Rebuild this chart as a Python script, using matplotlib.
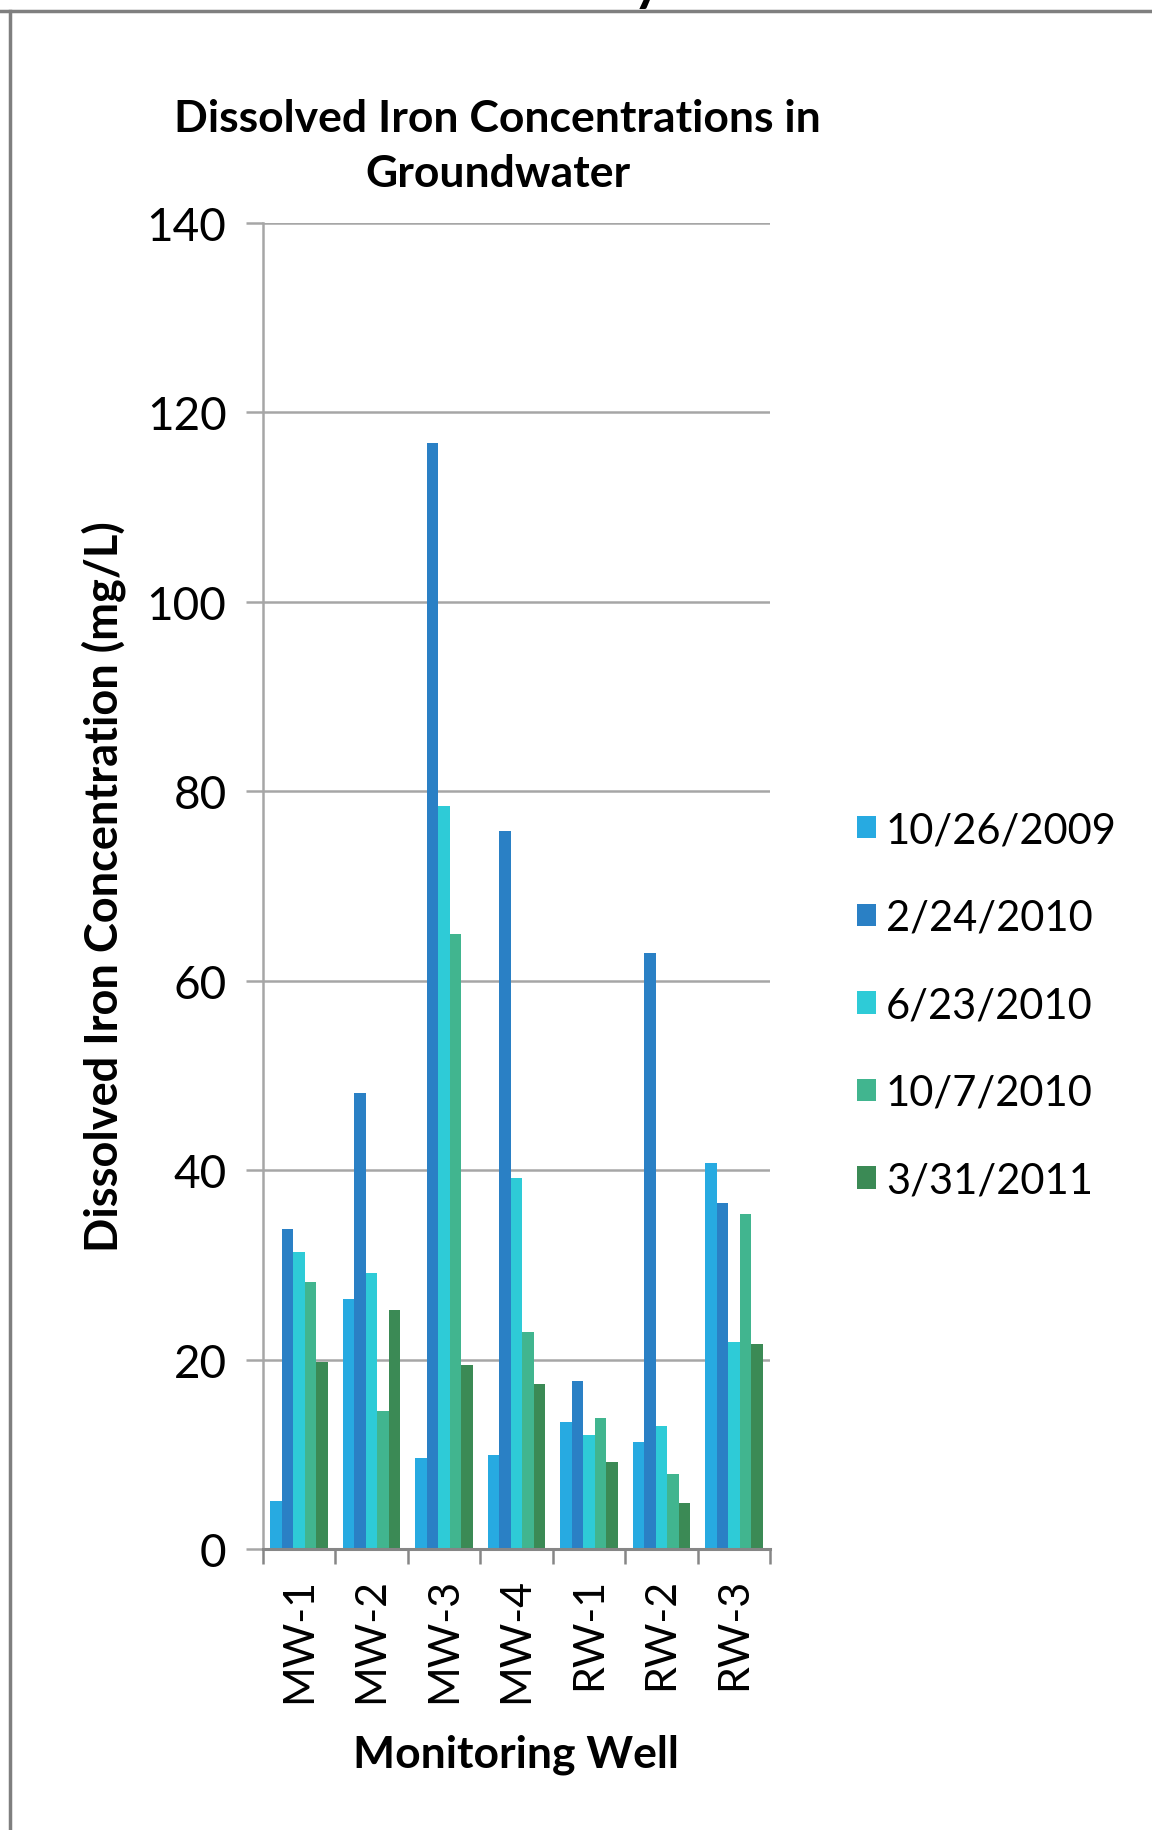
import matplotlib.pyplot as plt
import numpy as np
from matplotlib.lines import Line2D

plt.rcParams['font.family'] = ['Lato', 'DejaVu Sans']

wells = ["MW-1", "MW-2", "MW-3", "MW-4", "RW-1", "RW-2", "RW-3"]
dates = ["10/26/2009", "2/24/2010", "6/23/2010", "10/7/2010", "3/31/2011"]

fe_oct_2009 = [5.1, 26.4, 9.6, 9.9, 13.4, 11.3, 40.8]
fe_feb_2010 = [33.8, 48.1, 116.8, 75.8, 17.7, 62.9, 36.5]
fe_jun_2010 = [31.3, 29.1, 78.4, 39.2, 12.0, 13.0, 21.9]
fe_oct_2010 = [28.2, 14.6, 64.9, 22.9, 13.8, 7.9, 35.4]
fe_mar_2011 = [19.7, 25.2, 19.4, 17.4, 9.2, 4.8, 21.6]

series = [fe_oct_2009, fe_feb_2010, fe_jun_2010, fe_oct_2010, fe_mar_2011]
colors = ["#27AAE1", "#2A80C5", "#2ECBD7", "#41B58F", "#3B8A55"]

fig = plt.figure(figsize=(11.52, 18.31), dpi=100)
ax = fig.add_axes([0.228, 0.1535, 0.4405, 0.7242])

# clustered columns, 5 per well
x = np.arange(len(wells)) + 0.5
bw = 0.158
for i, (vals, c, lab) in enumerate(zip(series, colors, dates)):
    ax.bar(x + (i - 2) * bw, vals, width=bw, color=c, label=lab, zorder=3)

ax.set_xlim(0, len(wells))
ax.set_ylim(0, 140)
ax.set_yticks(np.arange(0, 141, 20))
ax.grid(axis='y', color='#A6A6A6', linewidth=1.8, zorder=0)
ax.set_xticks(np.arange(0, len(wells) + 1))
ax.set_xticklabels([])
ax.set_xticks(x, minor=True)
ax.set_xticklabels(wells, minor=True, rotation=90, fontsize=31)
ax.tick_params(axis='x', which='minor', length=0, pad=20)
ax.tick_params(axis='x', which='major', length=11, width=1.8, color='#868686')
ax.tick_params(axis='y', length=12, width=1.8, color='#A6A6A6', labelsize=33, pad=14)

for s in ['top', 'right']:
    ax.spines[s].set_visible(False)
ax.spines['left'].set_color('#A6A6A6')
ax.spines['left'].set_linewidth(1.8)
ax.spines['bottom'].set_color('#868686')
ax.spines['bottom'].set_linewidth(2.2)
ax.spines['bottom'].set_zorder(4)

ax.set_ylabel("Dissolved Iron Concentration (mg/L)", fontsize=32.5, fontweight='bold')
ax.yaxis.set_label_coords(-0.270, 0.5)
ax.set_xlabel("Monitoring Well", fontsize=32, fontweight='bold')
ax.xaxis.set_label_coords(0.5, -0.1395)
fig.text(0.432, 0.920, "Dissolved Iron Concentrations in\nGroundwater", ha='center', va='center',
         fontsize=32, fontweight='bold', linespacing=1.45)

ax.legend(loc='center left', bbox_to_anchor=(1.097, 0.41), frameon=False, fontsize=30,
          handlelength=0.45, handleheight=0.45, handletextpad=0.25, labelspacing=1.19)

# page frame around the chart
fig.add_artist(Line2D([0, 1], [1 - 12 / 1831] * 2, color='#7F7F7F', linewidth=2.5))
fig.add_artist(Line2D([10 / 1152] * 2, [0, 1 - 12 / 1831], color='#7F7F7F', linewidth=2.5))
fig.text(0.562, 1.0, "y", fontsize=40, fontweight='bold', va='baseline', ha='center')

fig.savefig("out.png", dpi=100)
